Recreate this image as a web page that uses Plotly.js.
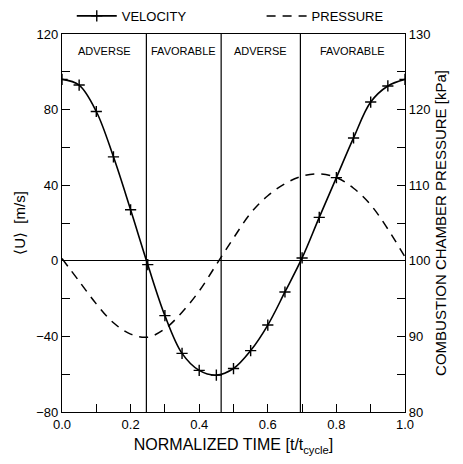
<!DOCTYPE html>
<html>
<head>
<meta charset="utf-8">
<script src="https://cdn.plot.ly/plotly-3.0.1.min.js"></script>
<style>html,body{margin:0;padding:0;background:#fff;}#chart{width:463px;height:464px;}</style>
</head>
<body>
<div id="chart"></div>
<script>
// Normalized time samples
const time = [0, 0.05, 0.10, 0.15, 0.20, 0.25, 0.30, 0.35, 0.40, 0.45, 0.50, 0.55, 0.60, 0.65, 0.70, 0.75, 0.80, 0.85, 0.90, 0.95, 1.00];
// Phase-averaged velocity <U> [m/s]
const velocity = [96, 93, 79, 55, 27, -2, -29, -49, -58, -60.5, -57, -47.5, -34, -16.5, 1.5, 23, 44, 65, 84, 92.5, 96];
// Combustion chamber pressure [kPa]
const pressure = [100.3, 97.3, 94.3, 91.8, 90.3, 89.9, 91.0, 93.2, 96.0, 99.5, 103.0, 106.3, 108.6, 110.2, 111.2, 111.5, 111.0, 109.6, 107.4, 104.2, 100.5];
// Pressure-gradient regions
const regionBounds = [0.246, 0.464, 0.695];
const regionLabels = ["ADVERSE", "FAVORABLE", "ADVERSE", "FAVORABLE"];
const regionLabelY = 111;

const FONT = "Liberation Sans, Arial, Helvetica, sans-serif";

const edges = [0].concat(regionBounds, [1]);
const annotations = regionLabels.map((txt, i) => ({
  x: (edges[i] + edges[i + 1]) / 2, y: regionLabelY, xref: 'x', yref: 'y',
  text: txt, showarrow: false, font: {family: FONT, size: 11, color: '#000'}
}));
const shapes = regionBounds.map(b => ({
  type: 'line', xref: 'x', yref: 'paper', x0: b, x1: b, y0: 0, y1: 1,
  line: {color: '#000', width: 1.2}
}));

const traces = [
  {
    x: time, y: velocity, name: 'VELOCITY', type: 'scatter', mode: 'lines+markers',
    line: {color: '#000', width: 1.6, shape: 'spline', smoothing: 1},
    marker: {symbol: 'cross-thin', size: 8, line: {color: '#000', width: 1.4}, color: '#000'},
    yaxis: 'y', legend: 'legend'
  },
  {
    x: time, y: pressure, name: 'PRESSURE', type: 'scatter', mode: 'lines',
    line: {color: '#000', width: 1.5, dash: '9px,7px', shape: 'spline', smoothing: 1},
    yaxis: 'y2', legend: 'legend2'
  }
];

const legendBase = {
  orientation: 'h', xref: 'container', yref: 'container',
  y: 0.998, xanchor: 'left', yanchor: 'top',
  font: {family: FONT, size: 13, color: '#000'},
  itemwidth: 40, bgcolor: 'rgba(0,0,0,0)'
};

const layout = {
  width: 463, height: 464,
  margin: {l: 62, r: 58, t: 34, b: 52, autoexpand: false},
  paper_bgcolor: '#fff', plot_bgcolor: '#fff',
  font: {family: FONT, size: 13, color: '#000'},
  showlegend: true,
  legend: Object.assign({}, legendBase, {x: 0.155}),
  legend2: Object.assign({}, legendBase, {x: 0.565}),
  xaxis: {
    range: [0, 1], dtick: 0.2, tickformat: '.1f',
    ticks: 'inside', ticklen: 8, tickwidth: 1, tickcolor: '#000',
    minor: {dtick: 0.1, ticks: 'inside', ticklen: 8, tickcolor: '#000'},
    showline: true, linecolor: '#000', linewidth: 1.2, mirror: true,
    showgrid: false, zeroline: false,
    tickfont: {family: FONT, size: 13},
    title: {text: 'NORMALIZED TIME [t/t<sub>cycle</sub>]', font: {family: FONT, size: 16}, standoff: 8}
  },
  yaxis: {
    range: [-80, 120], dtick: 40,
    ticks: 'inside', ticklen: 8, tickwidth: 1, tickcolor: '#000',
    minor: {dtick: 20, ticks: 'inside', ticklen: 8, tickcolor: '#000'},
    showline: true, linecolor: '#000', linewidth: 1.2,
    showgrid: false, zeroline: true, zerolinecolor: '#000', zerolinewidth: 1.2,
    tickfont: {family: FONT, size: 13},
    title: {text: '⟨U⟩  [m/s]', font: {family: FONT, size: 15}, standoff: 6}
  },
  yaxis2: {
    overlaying: 'y', side: 'right', range: [80, 130], dtick: 10,
    ticks: 'inside', ticklen: 8, tickwidth: 1, tickcolor: '#000',
    minor: {dtick: 5, ticks: 'inside', ticklen: 8, tickcolor: '#000'},
    showline: true, linecolor: '#000', linewidth: 1.2,
    showgrid: false, zeroline: false,
    tickfont: {family: FONT, size: 13},
    title: {text: 'COMBUSTION CHAMBER PRESSURE [kPa]', font: {family: FONT, size: 15}, standoff: 6}
  },
  shapes: shapes,
  annotations: annotations
};

Plotly.newPlot('chart', traces, layout, {displayModeBar: false, staticPlot: true});
</script>
</body>
</html>
